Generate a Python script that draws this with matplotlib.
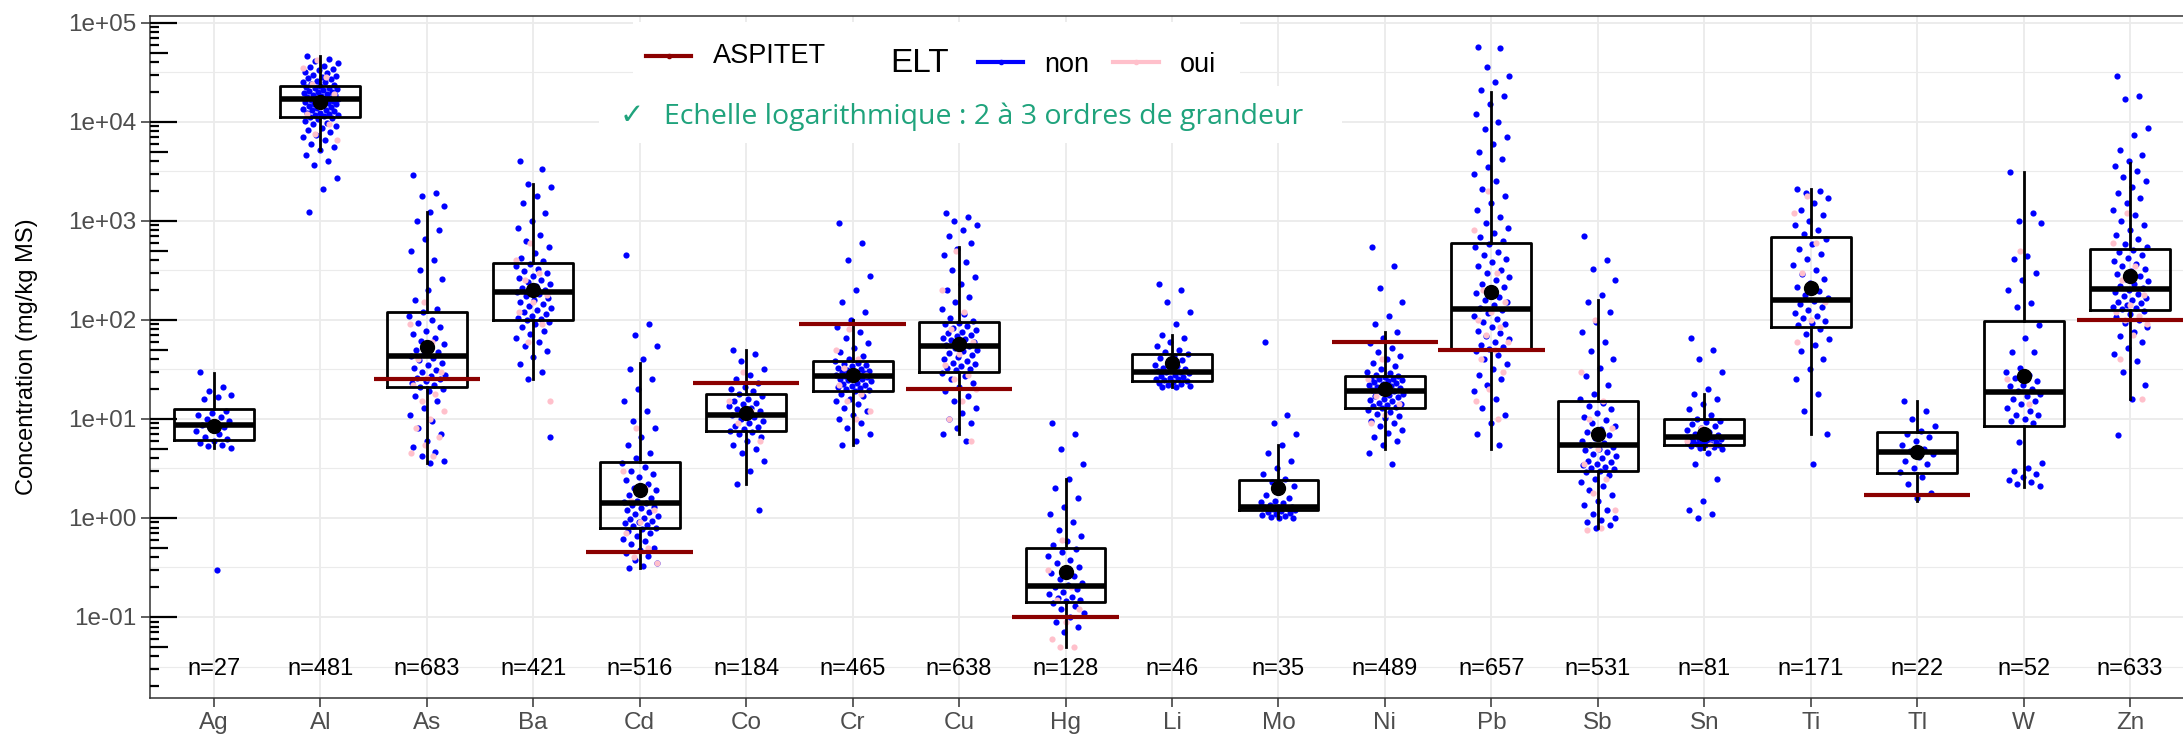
import matplotlib
matplotlib.use("Agg")
import matplotlib.pyplot as plt
from matplotlib.patches import Rectangle
from matplotlib.lines import Line2D

# ---------------------------------------------------------------
# Data
# ---------------------------------------------------------------
elements = ["Ag", "Al", "As", "Ba", "Cd", "Co", "Cr", "Cu", "Hg", "Li",
            "Mo", "Ni", "Pb", "Sb", "Sn", "Ti", "Tl", "W", "Zn"]
n_obs = [27, 481, 683, 421, 516, 184, 465, 638, 128, 46,
         35, 489, 657, 531, 81, 171, 22, 52, 633]

whislo = [5.1, 5200, 3.6, 25, 0.31, 2.2, 5.5, 7, 0.05, 21,
          1.0, 5, 5, 0.8, 5, 7, 1.5, 2.07, 15.9]
q1 = [6.1, 11300, 21, 100, 0.8, 7.5, 19, 30, 0.141, 24,
      1.2, 13, 50, 3, 5.5, 85, 2.85, 8.5, 126]
med = [8.7, 16900, 43, 189, 1.4, 11, 27, 55, 0.207, 30,
       1.3, 19, 130, 5.5, 6.5, 160, 4.6, 18.9, 206]
q3 = [12.5, 23100, 121, 374, 3.7, 18, 38, 95, 0.5, 45,
      2.4, 27, 596, 15, 10, 690, 7.4, 98, 519]
whishi = [29.4, 46000, 1240, 2350, 37, 50, 100, 540, 2.5, 70,
          5.5, 75, 20200, 160, 18, 2100, 15, 3100, 3850]
means = [8.4, 16000, 53, 198, 1.9, 11.5, 28, 57, 0.287, 37,
         2.0, 20, 189, 7, 7, 210, 4.6, 27, 275]

aspitet_elements = ["As", "Cd", "Co", "Cr", "Cu", "Hg", "Ni", "Pb", "Tl", "Zn"]
aspitet_values = [25, 0.45, 23, 90, 20, 0.1, 60, 50, 1.7, 100]

# individual observations (ELT = non / oui)
ag_non = [30, 21, 19, 17.5, 16.5, 16, 12, 11.5, 11, 10.5, 10, 9.5, 9, 8.7, 8.3,
          8, 7.5, 7, 6.5, 6.2, 6, 5.7, 5.5, 5.3, 5.1, 0.3]
ag_oui = []
al_non = [46000, 43000, 41000, 39000, 37000, 36000, 34000, 33000, 32000, 31000,
          30000, 29000, 28000, 27500, 27000, 26000, 25500, 25000, 24000, 23500,
          23000, 22500, 22000, 21800, 21500, 21000, 20500, 20000, 19800, 19500,
          19000, 18800, 18500, 18000, 17800, 17500, 17200, 17000, 16800, 16500,
          16200, 16000, 15800, 15500, 15200, 15000, 14700, 14400, 14100, 13800,
          13500, 13200, 13000, 12700, 12400, 12200, 12000, 11800, 11600, 11400,
          11200, 11000, 10600, 10200, 9800, 9400, 9000, 8600, 8200, 7800,
          7400, 7000, 6500, 6000, 5600, 5200, 4600, 4000, 3700, 2700, 2100, 1230]
al_oui = [42000, 35000, 28000, 24000, 19000, 14000, 12000, 9500, 7500, 6500]
as_non = [2900, 1900, 1800, 1400, 1240, 1000, 800, 650, 500, 400, 320, 260, 200,
          160, 130, 120, 110, 100, 92, 85, 78, 72, 66, 61, 57, 53, 50, 47, 45,
          43, 41, 39, 37, 35, 33, 31, 30, 28, 27, 26, 25, 24, 23, 22, 21,
          20, 19, 17, 15, 13, 11, 9.5, 8, 7, 6, 5.2, 4.6, 4.2, 3.8, 3.6]
as_oui = [150, 90, 60, 40, 30, 26, 22, 18, 15, 12, 10, 8, 6.5, 5.5, 4.5, 4.2]
ba_non = [4000, 3300, 2350, 2200, 1800, 1500, 1200, 1000, 850, 720, 620, 540,
          470, 420, 390, 370, 350, 330, 310, 295, 280, 265, 250, 240, 230, 220,
          210, 200, 195, 189, 182, 175, 168, 160, 152, 145, 138, 131, 125, 119,
          114, 109, 105, 102, 100, 96, 90, 84, 78, 72, 66, 60, 54, 48, 42, 36,
          30, 25, 6.5]
ba_oui = [600, 400, 300, 250, 180, 150, 120, 90, 60, 15]
cd_non = [450, 90, 70, 55, 40, 32, 25, 20, 15, 12, 9.5, 8, 6.5, 5.5, 4.5, 4.0,
          3.6, 3.3, 3.0, 2.8, 2.6, 2.4, 2.2, 2.0, 1.9, 1.8, 1.7, 1.6, 1.5, 1.45,
          1.4, 1.35, 1.3, 1.25, 1.2, 1.15, 1.1, 1.05, 1.0, 0.97, 0.94, 0.91,
          0.88, 0.85, 0.82, 0.8, 0.78, 0.74, 0.7, 0.66, 0.62, 0.58, 0.54, 0.5,
          0.47, 0.44, 0.41, 0.38, 0.35, 0.33, 0.31]
cd_oui = [8, 3, 2, 1.5, 1.2, 0.9, 0.7, 0.5, 0.4, 0.35]
co_non = [50, 45, 38, 32, 28, 25, 23, 21, 20, 19, 18, 17, 16, 15, 14.5, 14,
          13.5, 13, 12.5, 12, 11.5, 11, 10.5, 10, 9.5, 9, 8.5, 8.2, 7.9, 7.6,
          7.3, 7, 6.5, 6, 5.5, 5, 4.5, 3.8, 3, 2.2, 1.2]
co_oui = [30, 15, 12, 9, 6]
cr_non = [950, 600, 400, 280, 200, 150, 120, 100, 85, 75, 65, 58, 52, 47, 43,
          40, 38, 37, 36, 35, 34, 33, 32, 31, 30.5, 30, 29.5, 29, 28.5, 28,
          27.5, 27, 26.5, 26, 25.5, 25, 24.5, 24, 23, 22.5, 22, 21.5, 21, 20.5,
          20, 19.5, 19, 18, 17, 16, 15, 14, 13, 12, 11, 10, 9, 8, 7, 6, 5.5]
cr_oui = [80, 50, 40, 33, 28, 25, 22, 18, 15, 12, 10]
cu_non = [1200, 1100, 1000, 900, 800, 700, 600, 520, 450, 380, 320, 270, 230,
          200, 170, 150, 130, 115, 105, 98, 94, 90, 86, 82, 79, 76, 73, 70, 68,
          66, 64, 62, 60, 58, 56, 54, 52, 50, 48, 46, 44, 42, 40, 38.5, 37,
          35.5, 34, 33, 32, 31, 29, 27, 25, 23, 21, 19, 17, 15, 13, 11.5, 10,
          9, 8, 7, 6]
cu_oui = [500, 200, 120, 80, 60, 45, 35, 28, 25, 20, 15, 10, 6]
hg_non = [9, 7, 5, 3.5, 2.5, 2, 1.6, 1.3, 1.1, 0.9, 0.75, 0.65, 0.58, 0.53,
          0.49, 0.45, 0.41, 0.38, 0.35, 0.32, 0.3, 0.28, 0.26, 0.24, 0.22, 0.21,
          0.2, 0.19, 0.18, 0.17, 0.16, 0.155, 0.15, 0.145, 0.138, 0.13, 0.12,
          0.11, 0.1, 0.09, 0.08, 0.07]
hg_oui = [0.6, 0.3, 0.2, 0.15, 0.12, 0.09, 0.06, 0.05, 0.05]
li_non = [230, 200, 150, 120, 90, 70, 65, 60, 55, 50, 47, 45, 43, 41, 39, 37,
          35, 34, 33, 32, 31, 30.5, 30, 29.5, 29, 28, 27, 26.5, 26, 25.5, 25,
          24.5, 24, 23.5, 23, 22.5, 22, 21.5, 21, 21]
li_oui = []
mo_non = [60, 11, 9, 7, 5.5, 4.5, 3.8, 3.2, 2.8, 2.5, 2.3, 2.1, 1.9, 1.7, 1.6,
          1.5, 1.45, 1.4, 1.35, 1.3, 1.3, 1.28, 1.25, 1.22, 1.2, 1.18, 1.15,
          1.12, 1.1, 1.08, 1.05, 1.02, 1.0, 1.0]
mo_oui = []
ni_non = [540, 350, 210, 150, 110, 90, 75, 65, 58, 52, 47, 43, 40, 37, 34, 32,
          30, 29, 28, 27, 26.5, 26, 25.5, 25, 24.5, 24, 23.5, 23, 22.5, 22,
          21.5, 21, 20.5, 20, 19.5, 19, 18.5, 18, 17.5, 17, 16.5, 16, 15.5, 15,
          14.5, 14, 13.7, 13.4, 13.1, 12.8, 12.3, 11.8, 11.3, 10.8, 10.2, 9.6,
          9, 8.4, 7.8, 7.2, 6.6, 6, 5.4, 4.5, 3.5]
ni_oui = [40, 25, 20, 17, 14, 11, 9]
pb_non = [57000, 55000, 36000, 29000, 25000, 21000, 18000, 15000, 12000, 10000,
          8500, 7000, 6000, 5000, 4200, 3500, 3000, 2500, 2100, 1800, 1500, 1300,
          1100, 950, 850, 750, 680, 620, 590, 540, 490, 450, 410, 380, 350, 320,
          295, 270, 250, 230, 215, 200, 185, 170, 160, 150, 140, 132, 125, 118,
          110, 103, 96, 90, 84, 78, 73, 68, 64, 60, 56, 53, 51, 48, 44, 40, 36,
          32, 28, 25, 22, 19, 16, 13, 11, 9, 7, 5.5]
pb_oui = [2000, 800, 300, 200, 150, 120, 100, 85, 70, 60, 50, 40, 30, 20, 15, 10]
sb_non = [700, 400, 330, 250, 180, 150, 120, 95, 75, 60, 48, 40, 33, 27, 22, 18,
          16, 14.5, 13.5, 12.5, 11.5, 10.5, 9.8, 9.1, 8.5, 7.9, 7.4, 6.9, 6.4,
          6, 5.7, 5.5, 5.2, 5, 4.8, 4.6, 4.4, 4.2, 4.0, 3.8, 3.65, 3.5, 3.4,
          3.3, 3.2, 3.1, 3.0, 2.9, 2.7, 2.5, 2.3, 2.1, 1.9, 1.7, 1.5, 1.35, 1.2,
          1.1, 1.0, 0.95, 0.9, 0.85, 0.8]
sb_oui = [100, 30, 15, 10, 8, 5, 3.5, 2.5, 1.8, 1.2, 0.8, 0.75]
sn_non = [65, 50, 40, 30, 20, 18, 16, 14, 12.5, 11, 10, 9.6, 9.2, 8.8, 8.4, 8,
          7.7, 7.4, 7.1, 6.9, 6.7, 6.5, 6.4, 6.3, 6.2, 6.1, 6, 5.9, 5.8, 5.7,
          5.6, 5.55, 5.5, 5.4, 5.3, 5.2, 5.1, 5, 4.5, 3.5, 2.5, 1.5, 1.2, 1.1, 1.0]
sn_oui = [8, 6, 5.5]
ti_non = [2100, 2000, 1900, 1700, 1500, 1300, 1150, 1000, 900, 800, 740, 650,
          580, 520, 460, 410, 360, 320, 290, 260, 235, 215, 195, 180, 165, 155,
          145, 135, 125, 118, 110, 104, 98, 93, 88, 80, 72, 64, 56, 48, 40, 32,
          25, 18, 12, 7, 3.5]
ti_oui = [1800, 1200, 600, 300, 150, 100, 60]
tl_non = [15, 12, 10, 8.5, 7.5, 7, 6.5, 6, 5.5, 5, 4.7, 4.4, 4.1, 3.8, 3.5, 3.2,
          2.9, 2.6, 2.2, 1.8, 1.6]
tl_oui = [5]
w_non = [3100, 1200, 1000, 950, 440, 410, 300, 250, 200, 148, 134, 89, 66, 47,
         47, 33, 30, 28, 26, 24, 22, 21.5, 20, 19, 18, 17, 16, 15, 14, 13, 12,
         11, 11, 10, 9.5, 9, 5.9, 3.6, 3.2, 3.0, 2.8, 2.6, 2.4, 2.3, 2.2, 2.1]
w_oui = [500, 25, 14]
zn_non = [29000, 18000, 17000, 8700, 7300, 5200, 4600, 4000, 3600, 3200, 2800,
          2500, 2200, 1900, 1700, 1500, 1300, 1150, 1000, 900, 800, 720, 650,
          590, 540, 510, 480, 450, 420, 395, 370, 350, 330, 310, 290, 275, 260,
          245, 232, 220, 210, 200, 192, 184, 176, 168, 160, 153, 147, 141, 136,
          132, 128, 122, 115, 108, 100, 92, 84, 76, 68, 60, 52, 45, 38, 30, 22,
          16, 6.8]
zn_oui = [1200, 600, 350, 250, 180, 140, 120, 110, 100, 90, 70, 40, 15.9]

non_points = [ag_non, al_non, as_non, ba_non, cd_non, co_non, cr_non, cu_non,
              hg_non, li_non, mo_non, ni_non, pb_non, sb_non, sn_non, ti_non,
              tl_non, w_non, zn_non]
oui_points = [ag_oui, al_oui, as_oui, ba_oui, cd_oui, co_oui, cr_oui, cu_oui,
              hg_oui, li_oui, mo_oui, ni_oui, pb_oui, sb_oui, sn_oui, ti_oui,
              tl_oui, w_oui, zn_oui]

# ---------------------------------------------------------------
# Figure
# ---------------------------------------------------------------
W_PX, H_PX = 2183, 737
DPI = 100
FONT = "Liberation Sans"

fig = plt.figure(figsize=(W_PX / DPI, H_PX / DPI), dpi=DPI)
ax = fig.add_axes([150 / W_PX, 1 - 698 / H_PX, (2194 - 150) / W_PX, (698 - 16) / H_PX])

pos = list(range(1, len(elements) + 1))
ax.set_yscale("log")
ax.set_ylim(10 ** -1.818, 10 ** 5.068)
ax.set_xlim(0.4, len(elements) + 0.6)

# grid
grid_col = "#EBEBEB"
for k in range(-1, 6):
    ax.axhline(10.0 ** k, color=grid_col, lw=1.3, zorder=0)
for k in range(-2, 5):
    ax.axhline(10.0 ** (k + 0.5), color=grid_col, lw=0.8, zorder=0)
for p in pos:
    ax.axvline(p, color=grid_col, lw=1.3, zorder=0)


def jitter(n, idx, phase):
    # spread the points of one category sideways, like geom_jitter
    return [idx + (((i * 0.618034 + phase) % 1) - 0.5) * 0.34 for i in range(n)]


for i, p in enumerate(pos):
    vals = non_points[i]
    ax.scatter(jitter(len(vals), p, 0.13), vals, s=20, color="blue", lw=0, zorder=3)
    vals = oui_points[i]
    if vals:
        ax.scatter(jitter(len(vals), p, 0.41), vals, s=20, color="pink", lw=0,
                   zorder=3.1)

stats = []
for i, e in enumerate(elements):
    stats.append(dict(label=e, whislo=whislo[i], q1=q1[i], med=med[i],
                      q3=q3[i], whishi=whishi[i]))
ax.bxp(stats, positions=pos, widths=0.75, showfliers=False, showcaps=False,
       boxprops=dict(color="black", linewidth=2.0),
       medianprops=dict(color="black", linewidth=4.0, solid_capstyle="butt"),
       whiskerprops=dict(color="black", linewidth=2.0),
       zorder=4)

ax.plot(pos, means, "o", color="black", ms=10, zorder=5, ls="none")

for e, v in zip(aspitet_elements, aspitet_values):
    p = elements.index(e) + 1
    ax.plot([p - 0.5, p + 0.5], [v, v], color="#8B0000", lw=3, zorder=6,
            solid_capstyle="butt")

for p, n in zip(pos, n_obs):
    ax.text(p, 0.03, "n=%d" % n, ha="center", va="center", fontsize=17,
            color="black", family=FONT)

# axes styling
ax.spines["right"].set_visible(False)
for s in ["left", "bottom", "top"]:
    ax.spines[s].set_color("#333333")
    ax.spines[s].set_linewidth(1.1)
ax.set_xticks(pos)
ax.set_xticklabels(elements)
ax.set_yticks([10.0 ** k for k in range(-1, 6)])
ax.set_yticklabels(["1e-01", "1e+00", "1e+01", "1e+02", "1e+03", "1e+04", "1e+05"])
ax.yaxis.set_minor_locator(matplotlib.ticker.NullLocator())
ax.tick_params(axis="both", length=6.5, width=1.1, color="#333333",
               labelcolor="#4D4D4D", labelsize=17.5)
for lab in ax.get_xticklabels() + ax.get_yticklabels():
    lab.set_family(FONT)
fig.text(27 / W_PX, 1 - 357 / H_PX, "Concentration (mg/kg MS)", rotation=90,
         ha="center", va="center", fontsize=17, family=FONT)

# log ticks inside the panel (annotation_logticks)
ytr = ax.get_yaxis_transform()
axw = 2044.0
for k in range(-2, 6):
    for m in range(1, 10):
        v = m * 10.0 ** k
        if v < 10 ** -1.818 or v > 10 ** 5.068:
            continue
        L = 27 if m == 1 else (18 if m == 5 else 9)
        ax.plot([0, L / axw], [v, v], color="black", lw=1.6, transform=ytr,
                zorder=4, solid_capstyle="butt", clip_on=False)


# legend / annotation boxes (figure pixels)
def fx(x):
    return x / W_PX


def fy(y):
    return 1 - y / H_PX


fig.patches.append(Rectangle((fx(633), fy(86)), fx(1240) - fx(633), fy(22) - fy(86),
                             transform=fig.transFigure, facecolor="white",
                             edgecolor="none", zorder=10))
fig.patches.append(Rectangle((fx(599), fy(143)), fx(1342) - fx(599), fy(86) - fy(143),
                             transform=fig.transFigure, facecolor="white",
                             edgecolor="none", zorder=10))


def key(x0, x1, y, col):
    fig.add_artist(Line2D([fx(x0), fx(x1)], [fy(y), fy(y)], color=col, lw=3,
                          transform=fig.transFigure, zorder=11))
    fig.add_artist(Line2D([fx((x0 + x1) / 2)], [fy(y)], color=col, marker="o",
                          ms=3, transform=fig.transFigure, zorder=11))


key(646, 691, 56, "#8B0000")
fig.text(fx(713), fy(56), "ASPITET", fontsize=19.5, va="center", ha="left",
         family=FONT, zorder=12)
fig.text(fx(890), fy(63), "ELT", fontsize=24, va="center", ha="left",
         family=FONT, zorder=12)
key(978, 1023, 62, "blue")
fig.text(fx(1044), fy(65), "non", fontsize=19.5, va="center", ha="left",
         family=FONT, zorder=12)
key(1113, 1159, 62, "pink")
fig.text(fx(1180), fy(65), "oui", fontsize=19.5, va="center", ha="left",
         family=FONT, zorder=12)
fig.text(fx(620), fy(116), "\u2713", fontsize=21, va="center", ha="left",
         color="#1FA37C", family=["DejaVu Sans"], zorder=12)
fig.text(fx(664), fy(117), "Echelle logarithmique : 2 \u00e0 3 ordres de grandeur",
         fontsize=20.5, va="center", ha="left", color="#1FA37C",
         family=["Open Sans", "DejaVu Sans"], zorder=12)

fig.savefig("out.png", dpi=DPI)
